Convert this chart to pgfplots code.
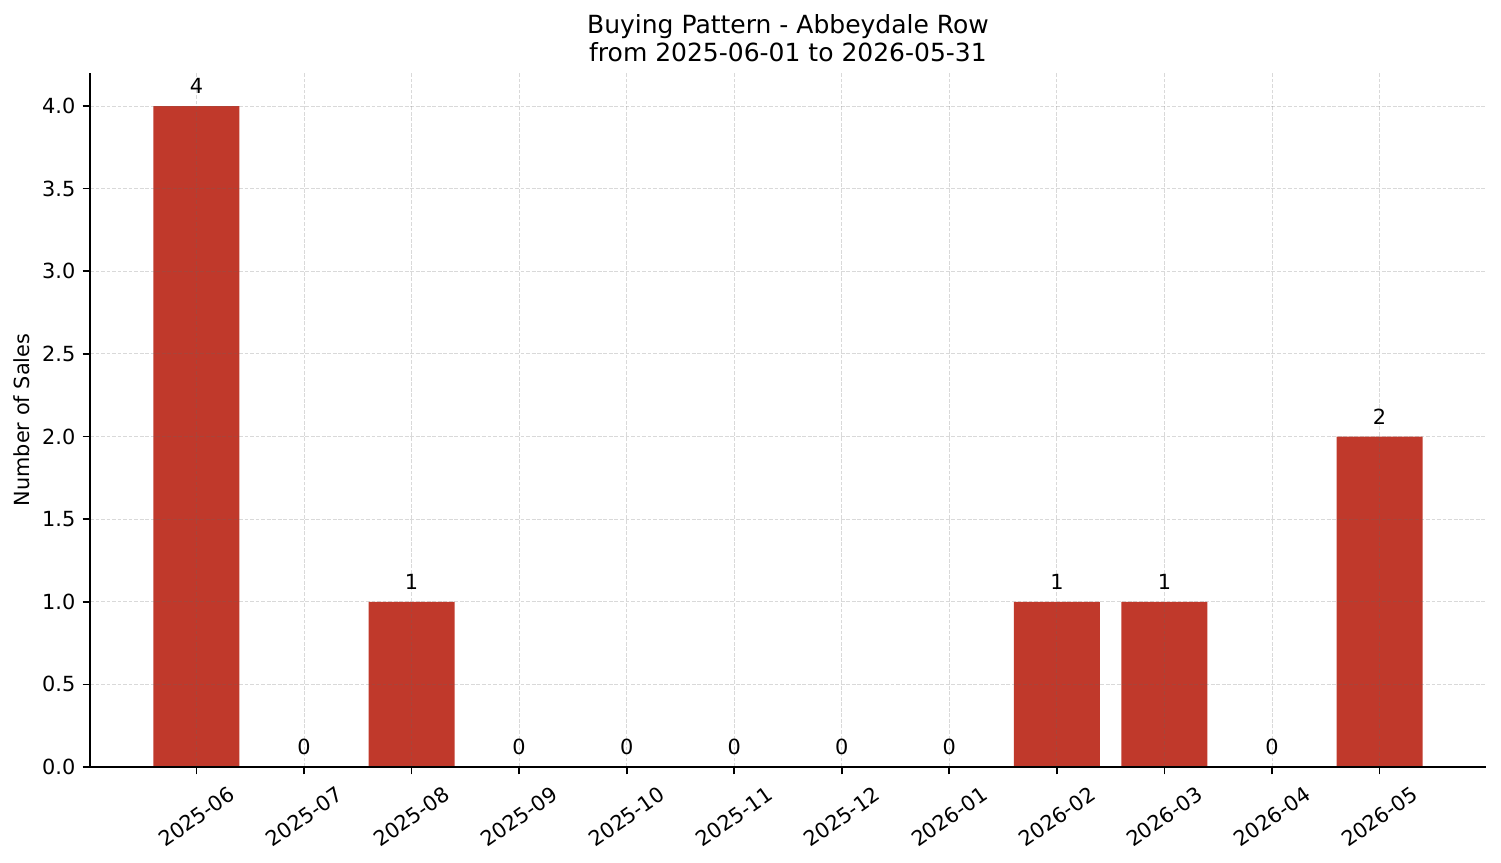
\documentclass[border=0pt]{standalone}
\usepackage{pgfplots}
\pgfplotsset{compat=1.18}
\usepackage{fontspec}
\setmainfont{DejaVu Sans}
\definecolor{barred}{HTML}{C0392B}
\begin{document}
\begin{tikzpicture}
\begin{axis}[
  scale only axis,
  width=670.08pt, height=333.12pt,
  xmin=-0.99, xmax=11.99, ymin=0, ymax=4.2,
  ybar, bar width=0.8, bar shift=0pt,
  axis on top,
  axis x line*=bottom, axis y line*=left,
  axis line style={line width=0.8pt, black},
  tick style={line width=0.8pt, black},
  tick align=outside, major tick length=3.5pt,
  xtick={0,...,11},
  xticklabels={2025-06,2025-07,2025-08,2025-09,2025-10,2025-11,2025-12,2026-01,2026-02,2026-03,2026-04,2026-05},
  ytick={0,0.5,...,4},
  /pgf/number format/assume math mode=true,
  yticklabel style={/pgf/number format/.cd, fixed, fixed zerofill, precision=1},
  ticklabel style={font=\fontsize{10}{12}\selectfont},
  xticklabel style={yshift=-20.4pt, rotate=35, anchor=center},
  grid=major,
  major grid style={line width=0.4pt, black!60, opacity=0.25, dash pattern=on 1.85pt off 0.8pt},
  ylabel={Number of Sales},
  ylabel style={font=\fontsize{10}{12}\selectfont, yshift=-1pt},
  title={Buying Pattern - Abbeydale Row\\from 2025-06-01 to 2026-05-31},
  title style={align=center, font=\fontsize{12}{13.5}\selectfont, yshift=-4.3pt},
  nodes near coords,
  every node near coord/.append style={font=\fontsize{10}{12}\selectfont, anchor=south, inner sep=0pt, yshift=5.6pt, black},
]
\addplot[fill=barred, draw=none] coordinates {
(0,4) (1,0) (2,1) (3,0) (4,0) (5,0) (6,0) (7,0) (8,1) (9,1) (10,0) (11,2)
};
\end{axis}
\pgfresetboundingbox
\path[use as bounding box] ([shift={(-43.2pt,-46.08pt)}]current axis.south west) rectangle ([shift={(7.2pt,35.04pt)}]current axis.north east);
\end{tikzpicture}
\end{document}
